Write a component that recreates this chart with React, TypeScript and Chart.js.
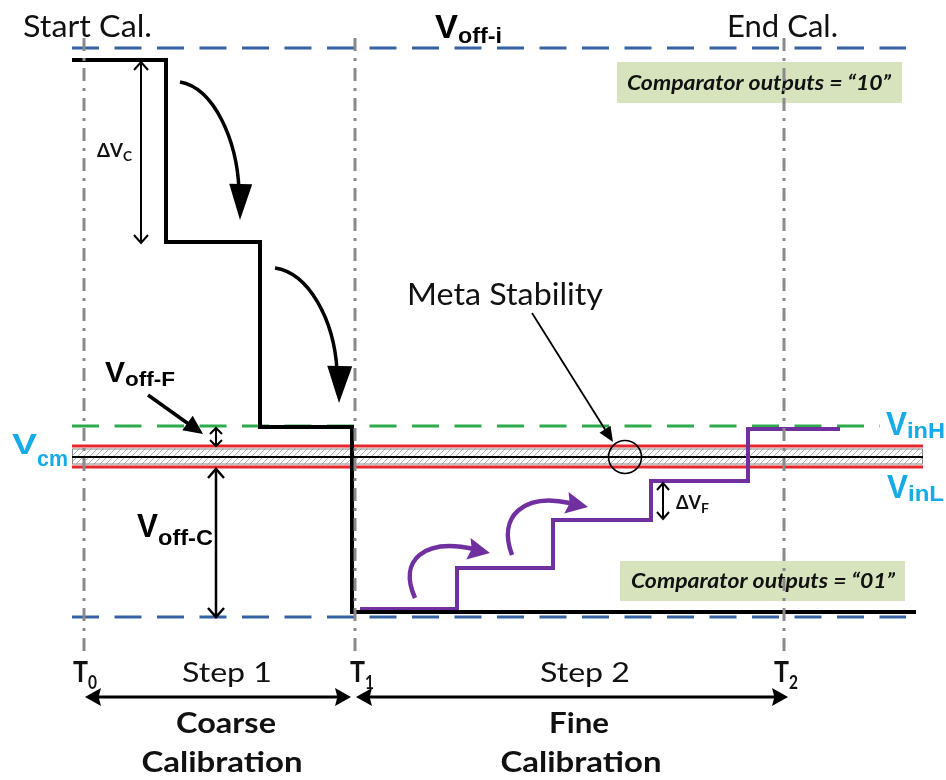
import React, { useEffect, useRef } from 'react';
import { Chart, registerables } from 'chart.js';

Chart.register(...registerables);

const W = 946;
const H = 780;

// ---- data (diagram units: x = time axis, y = voltage axis, top = high) ----
const timeMarkX = [84, 355, 784];
const timeMarkSub = ['0', '1', '2'];
const coarseEdges = [72, 166, 260, 352, 916];
const coarseLevels = [60, 242, 427, 612];
const fineEdges = [360, 457, 553, 651, 748, 840];
const fineLevels = [609, 568, 520, 481, 429];
const offsetBoundLevels = [48, 617]; // V_off-i limits (blue dashed)
const vinHLevel = 426; // green dashed
const redLevels = [446, 467]; // V_inH / V_inL band edges
const vcmLevel = 457;
const refStartX = 72;
const refEndX = 906;
const bandEndX = 923;
const vinHEndX = 880;
const markTop = 38;
const markBottom = 652;

const COL_BLUE = '#3462a4';
const COL_GREEN = '#2caa4c';
const COL_RED = '#e5262c';
const COL_GRAY = '#8a8a8a';
const COL_PURPLE = '#7030a0';
const COL_CYAN = '#14abe6';
const COL_BOX = '#d7e3bd';

function steps(edges: number[], levels: number[]) {
  const pts: { x: number; y: number }[] = [];
  levels.forEach((lv, i) => {
    pts.push({ x: edges[i], y: lv });
    pts.push({ x: edges[i + 1], y: lv });
  });
  return pts;
}

function hline(y: number, x0: number, x1: number) {
  return [{ x: x0, y }, { x: x1, y }];
}

function fitText(ctx: CanvasRenderingContext2D, text: string, x: number, y: number, font: string, width: number, color: string, align = 'left') {
  ctx.save();
  ctx.font = font;
  ctx.fillStyle = color;
  ctx.textBaseline = 'alphabetic';
  ctx.textAlign = 'left';
  const m = ctx.measureText(text).width;
  const s = width / m;
  const left = align === 'center' ? x - width / 2 : x;
  ctx.translate(left, y);
  ctx.scale(s, 1);
  ctx.fillText(text, 0, 0);
  ctx.restore();
}

function subLabel(ctx: CanvasRenderingContext2D, main: string, sub: string, x: number, base: number, size: number, w: number, subBase: number, subSize: number, subW: number, color: string, family = '"Liberation Sans", Arial, sans-serif', weight = 'bold') {
  fitText(ctx, main, x, base, `${weight} ${size}px ${family}`, w, color);
  fitText(ctx, sub, x + w, subBase, `${weight} ${subSize}px ${family}`, subW, color);
}

function filledHead(ctx: CanvasRenderingContext2D, tx: number, ty: number, ang: number, len: number, hw: number, color: string, notch = 0.85) {
  ctx.save();
  ctx.fillStyle = color;
  ctx.translate(tx, ty);
  ctx.rotate(ang);
  ctx.beginPath();
  ctx.moveTo(0, 0);
  ctx.lineTo(-len, -hw);
  ctx.lineTo(-len * notch, 0);
  ctx.lineTo(-len, hw);
  ctx.closePath();
  ctx.fill();
  ctx.restore();
}

function chevron(ctx: CanvasRenderingContext2D, tx: number, ty: number, ang: number, len: number, hw: number, color: string, lw: number) {
  ctx.save();
  ctx.strokeStyle = color;
  ctx.lineWidth = lw;
  ctx.translate(tx, ty);
  ctx.rotate(ang);
  ctx.beginPath();
  ctx.moveTo(-len, -hw);
  ctx.lineTo(0, 0);
  ctx.lineTo(-len, hw);
  ctx.stroke();
  ctx.restore();
}

function vDoubleArrow(ctx: CanvasRenderingContext2D, x: number, y0: number, y1: number, lw: number, len: number, hw: number) {
  ctx.save();
  ctx.strokeStyle = '#000';
  ctx.lineWidth = lw;
  ctx.beginPath();
  ctx.moveTo(x, y0);
  ctx.lineTo(x, y1);
  ctx.stroke();
  ctx.restore();
  chevron(ctx, x, y0, -Math.PI / 2, len, hw, '#000', lw);
  chevron(ctx, x, y1, Math.PI / 2, len, hw, '#000', lw);
}

const diagramPlugin = {
  id: 'diagram',
  beforeDraw(chart: any) {
    const ctx = chart.ctx;
    ctx.save();
    ctx.fillStyle = '#fff';
    ctx.fillRect(0, 0, chart.width, chart.height);
    ctx.restore();
  },
  beforeDatasetsDraw(chart: any) {
    const ctx: CanvasRenderingContext2D = chart.ctx;
    const X = (v: number) => chart.scales.x.getPixelForValue(v);
    const Y = (v: number) => chart.scales.y.getPixelForValue(v);
    // hatched band between the red lines
    const pc = document.createElement('canvas');
    pc.width = 6;
    pc.height = 6;
    const p = pc.getContext('2d')!;
    p.fillStyle = '#ffffff';
    p.fillRect(0, 0, 6, 6);
    p.strokeStyle = '#b0b0b0';
    p.lineWidth = 1;
    p.beginPath();
    p.moveTo(0, 6); p.lineTo(6, 0);
    p.moveTo(-3, 3); p.lineTo(3, -3);
    p.moveTo(3, 9); p.lineTo(9, 3);
    p.stroke();
    const pat = ctx.createPattern(pc, 'repeat')!;
    const bx0 = X(refStartX), bx1 = X(bandEndX);
    const by0 = Y(redLevels[0]) + 2.5, by1 = Y(redLevels[1]) - 2.5;
    ctx.save();
    ctx.fillStyle = pat;
    ctx.fillRect(bx0, by0, bx1 - bx0, by1 - by0);
    ctx.strokeStyle = '#8a8a8a';
    ctx.lineWidth = 1;
    ctx.strokeRect(bx0 + 0.5, by0 + 0.5, bx1 - bx0 - 1, by1 - by0 - 1);
    ctx.restore();

    // comparator boxes
    const boxes = [
      { x: 617, y: 62, w: 285, h: 41, text: 'Comparator outputs = \u201C10\u201D', tx: 627, ty: 90 },
      { x: 620, y: 561, w: 285, h: 40, text: 'Comparator outputs = \u201C01\u201D', tx: 631, ty: 588 },
    ];
    boxes.forEach((b) => {
      ctx.save();
      ctx.fillStyle = COL_BOX;
      ctx.fillRect(b.x, b.y, b.w, b.h);
      ctx.restore();
      fitText(ctx, b.text, b.tx, b.ty, 'italic bold 21px Lato, "Open Sans", sans-serif', 264, '#111');
    });
  },
  afterDatasetsDraw(chart: any) {
    const ctx: CanvasRenderingContext2D = chart.ctx;
    const calibri = 'Lato, "Open Sans", sans-serif';

    // black curved arrows (coarse steps)
    ctx.save();
    ctx.strokeStyle = '#000';
    ctx.lineWidth = 3.5;
    ctx.lineCap = 'butt';
    ctx.beginPath();
    ctx.moveTo(180, 82);
    ctx.bezierCurveTo(214, 88, 237, 140, 239, 190);
    ctx.stroke();
    ctx.beginPath();
    ctx.moveTo(275, 268);
    ctx.bezierCurveTo(309, 273, 334, 320, 337, 370);
    ctx.stroke();
    ctx.restore();
    filledHead(ctx, 240, 220, Math.PI / 2 + 0.02, 36, 11.5, '#000', 1);
    filledHead(ctx, 339, 403, Math.PI / 2 + 0.02, 37, 12.5, '#000', 1);

    // purple curved arrows (fine steps)
    ctx.save();
    ctx.strokeStyle = COL_PURPLE;
    ctx.lineWidth = 4.5;
    ctx.beginPath();
    ctx.moveTo(415, 598);
    ctx.bezierCurveTo(398, 560, 424, 538, 474, 549);
    ctx.stroke();
    ctx.beginPath();
    ctx.moveTo(512, 555);
    ctx.bezierCurveTo(497, 515, 525, 493, 570, 503);
    ctx.stroke();
    ctx.restore();
    filledHead(ctx, 490, 553, Math.atan2(4, 20), 22, 11, COL_PURPLE);
    filledHead(ctx, 588, 507, Math.atan2(4, 20), 22, 11, COL_PURPLE);

    // double arrows
    vDoubleArrow(ctx, 141, 62, 243, 2, 8, 7);
    vDoubleArrow(ctx, 216, 428, 446, 2, 6, 6);
    vDoubleArrow(ctx, 216, 469, 617, 2.5, 9, 8);
    vDoubleArrow(ctx, 663, 483, 519, 2, 7, 6);

    // V_off-F pointer
    ctx.save();
    ctx.strokeStyle = '#000';
    ctx.lineWidth = 3.5;
    ctx.beginPath();
    ctx.moveTo(148, 395);
    ctx.lineTo(190, 425);
    ctx.stroke();
    ctx.restore();
    filledHead(ctx, 203, 434, Math.atan2(39, 55), 19, 9, '#000', 1);

    // Meta stability pointer + circle
    ctx.save();
    ctx.strokeStyle = '#000';
    ctx.lineWidth = 1.8;
    ctx.beginPath();
    ctx.moveTo(532, 313);
    ctx.lineTo(606, 431);
    ctx.stroke();
    ctx.beginPath();
    ctx.arc(625, 457, 16.5, 0, Math.PI * 2);
    ctx.lineWidth = 1.6;
    ctx.stroke();
    ctx.restore();
    filledHead(ctx, 613, 442, Math.atan2(129, 81), 15, 6.5, '#000', 1);

    // bottom phase arrows
    ctx.save();
    ctx.strokeStyle = '#000';
    ctx.lineWidth = 3;
    ctx.beginPath();
    ctx.moveTo(95, 697); ctx.lineTo(340, 697);
    ctx.moveTo(367, 697); ctx.lineTo(777, 697);
    ctx.stroke();
    ctx.restore();
    filledHead(ctx, 85, 697, Math.PI, 16, 9, '#000');
    filledHead(ctx, 351, 697, 0, 16, 9, '#000');
    filledHead(ctx, 356, 697, Math.PI, 16, 9, '#000');
    filledHead(ctx, 788, 697, 0, 16, 9, '#000');

    // ---- texts ----
    fitText(ctx, 'Start Cal.', 23, 37, `30px ${calibri}`, 129, '#111');
    fitText(ctx, 'End Cal.', 727, 37, `30px ${calibri}`, 111, '#111');
    fitText(ctx, 'Meta Stability', 407, 305, `30px ${calibri}`, 196, '#111');

    subLabel(ctx, 'V', 'off-i', 435, 38, 34, 23, 43, 22, 44, '#000');
    subLabel(ctx, 'V', 'off-F', 105, 382, 29, 20, 386, 20, 50, '#000');
    subLabel(ctx, 'V', 'off-C', 137, 537, 33, 21, 545, 22, 55, '#000');
    subLabel(ctx, 'V', 'cm', 12, 454, 30, 25, 466, 22, 31, COL_CYAN);
    subLabel(ctx, 'V', 'inH', 886, 435, 34, 21, 438, 22, 38, COL_CYAN);
    subLabel(ctx, 'V', 'inL', 887, 498, 33, 21, 501, 22, 36, COL_CYAN);

    subLabel(ctx, '\u0394V', 'C', 97, 157, 19, 26, 161, 13, 9, '#111', calibri, 'bold');
    subLabel(ctx, '\u0394V', 'F', 676, 509, 19, 25, 513, 13, 8, '#111', calibri, 'bold');

    timeMarkX.forEach((tx, i) => {
      const left = tx - 11 + (i === 0 ? 0 : 6) - (i === 2 ? 5 : 0);
      subLabel(ctx, 'T', timeMarkSub[i], left, 682, 28, 15, 689, 19, 9, '#111', calibri, 'bold');
    });

    fitText(ctx, 'Step 1', 227, 682, `27px ${calibri}`, 90, '#111', 'center');
    fitText(ctx, 'Step 2', 585, 682, `27px ${calibri}`, 90, '#111', 'center');
    fitText(ctx, 'Coarse', 226, 733, `bold 29px ${calibri}`, 100, '#111', 'center');
    fitText(ctx, 'Calibration', 222, 772, `bold 29px ${calibri}`, 161, '#111', 'center');
    fitText(ctx, 'Fine', 579, 733, `bold 29px ${calibri}`, 60, '#111', 'center');
    fitText(ctx, 'Calibration', 581, 772, `bold 29px ${calibri}`, 161, '#111', 'center');
  },
};

export default function App() {
  const ref = useRef<HTMLCanvasElement | null>(null);

  useEffect(() => {
    if (!ref.current) return;
    const base = { showLine: true, pointRadius: 0, pointHoverRadius: 0, fill: false, tension: 0, clip: false as any, borderCapStyle: 'butt', borderJoinStyle: 'miter' };
    const datasets: any[] = [];
    timeMarkX.forEach((x, i) => {
      datasets.push({
        ...base,
        label: 'T' + timeMarkSub[i],
        data: [{ x, y: markTop }, { x, y: markBottom }],
        borderColor: COL_GRAY,
        borderWidth: 3,
        borderDash: [13, 7, 3, 7],
        order: 0,
      });
    });
    datasets.push({ ...base, label: 'coarse', data: steps(coarseEdges, coarseLevels), borderColor: '#000', borderWidth: 4, order: 1 });
    datasets.push({ ...base, label: 'fine', data: steps(fineEdges, fineLevels), borderColor: COL_PURPLE, borderWidth: 4, order: 2 });
    datasets.push({ ...base, label: 'Vcm', data: hline(vcmLevel, refStartX, bandEndX), borderColor: '#000', borderWidth: 2, order: 3 });
    redLevels.forEach((lv, i) => {
      datasets.push({ ...base, label: 'red' + i, data: hline(lv, refStartX, bandEndX), borderColor: COL_RED, borderWidth: 3.2, order: 3 });
    });
    offsetBoundLevels.forEach((lv, i) => {
      datasets.push({ ...base, label: 'voff' + i, data: hline(lv, refStartX, refEndX), borderColor: COL_BLUE, borderWidth: 3, borderDash: [27, 15.5], order: 4 });
    });
    datasets.push({ ...base, label: 'VinH', data: hline(vinHLevel, refStartX, vinHEndX), borderColor: COL_GREEN, borderWidth: 3, borderDash: [27, 15.5], order: 4 });

    const chart = new Chart(ref.current, {
      type: 'scatter',
      data: { datasets },
      options: {
        animation: false,
        responsive: false,
        maintainAspectRatio: false,
        events: [],
        layout: { padding: 0 },
        scales: {
          x: { type: 'linear', min: 0, max: W, display: false },
          y: { type: 'linear', min: 0, max: H, reverse: true, display: false },
        },
        plugins: { legend: { display: false }, tooltip: { enabled: false } },
      },
      plugins: [diagramPlugin],
    } as any);
    return () => chart.destroy();
  }, []);

  return (
    <div style={{ position: 'absolute', left: 0, top: 0, width: W, height: H, background: '#fff' }}>
      <canvas ref={ref} width={W} height={H} style={{ width: W, height: H, display: 'block' }} />
    </div>
  );
}
